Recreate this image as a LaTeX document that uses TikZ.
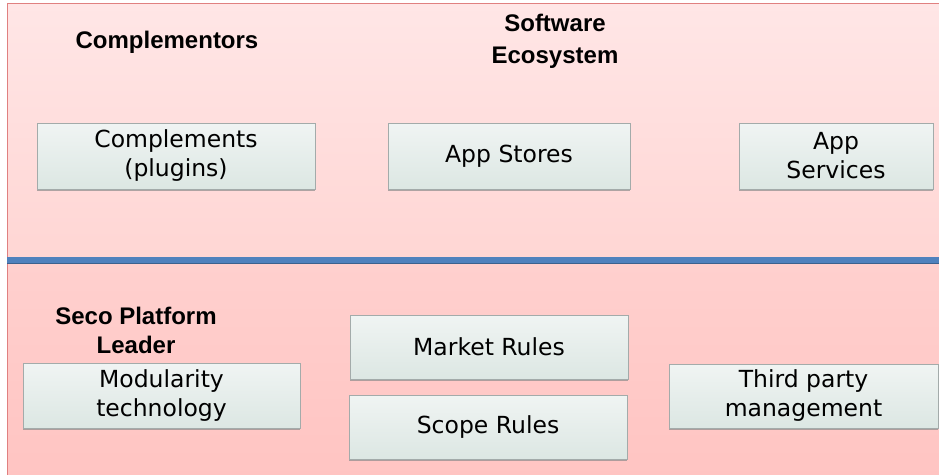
\documentclass[tikz,border=0pt]{standalone}
\usepackage{fontspec}
\setmainfont{DejaVu Sans}
\newfontfamily\headfont{Liberation Sans}
\usepackage{xcolor}
\definecolor{framered}{HTML}{E08080}
\definecolor{toptop}{HTML}{FFE6E6}
\definecolor{topbot}{HTML}{FFD6D4}
\definecolor{lowtop}{HTML}{FFD0CE}
\definecolor{lowbot}{HTML}{FFC4C2}
\definecolor{divider}{HTML}{4F81BD}
\definecolor{boxtop}{HTML}{F0F4F3}
\definecolor{boxbot}{HTML}{DCE7E3}
\definecolor{boxline}{HTML}{A3ABAA}
\usepackage{tikz}
\usetikzlibrary{positioning}
\usetikzlibrary{shadows}

\begin{document}
\begin{tikzpicture}[x=1pt,y=-1pt,
  every node/.style={inner sep=1,outer sep=0},
  part/.style={draw=boxline,line width=0.8pt,top color=boxtop,bottom color=boxbot,
    align=center,font=\fontsize{23.5}{29}\selectfont,
    drop shadow={shadow xshift=0pt,shadow yshift=-2pt,fill=black!45,opacity=0.7}},
  head/.style={align=center,font=\headfont\bfseries\fontsize{24}{32}\selectfont}]

\useasboundingbox (0,0) rectangle (939,474);
\clip (0,0) rectangle (939,474);

% two layers
\shade[top color=toptop,bottom color=topbot] (7,3) rectangle (945,257);
\shade[top color=lowtop,bottom color=lowbot] (7,263) rectangle (945,480);
\draw[framered,line width=0.8pt] (7,480) -- (7,3) -- (945,3);
\fill[divider] (7,256.5) rectangle (945,263);
\draw[divider!75!black,line width=0.7pt] (7,263) -- (945,263);

% labels
\node[head] (complementors) at (167,42) {Complementors};
\node[head] (seco) at (555,41) {Software\\Ecosystem};
\node[head,font=\headfont\bfseries\fontsize{24}{29}\selectfont] (leader) at (136,330) {Seco Platform\\Leader};

% ecosystem boxes
\node[part,minimum width=278,minimum height=66] (plugins) at (176,156) {Complements\\(plugins)};
\node[part,minimum width=242,minimum height=66] (stores) at (509,156) {App Stores};
\node[part,minimum width=194,minimum height=66] (services) at (836,156) {App\\Services};

% platform boxes
\node[part,minimum width=277,minimum height=65] (modular) at (161.5,395.5) {Modularity\\technology};
\node[part,minimum width=278,minimum height=64] (market) at (489,347) {Market Rules};
\node[part,minimum width=278,minimum height=64] (scope) at (488,427) {Scope Rules};
\node[part,minimum width=269,minimum height=64] (third) at (803.5,396) {Third party\\management};
\end{tikzpicture}
\end{document}
